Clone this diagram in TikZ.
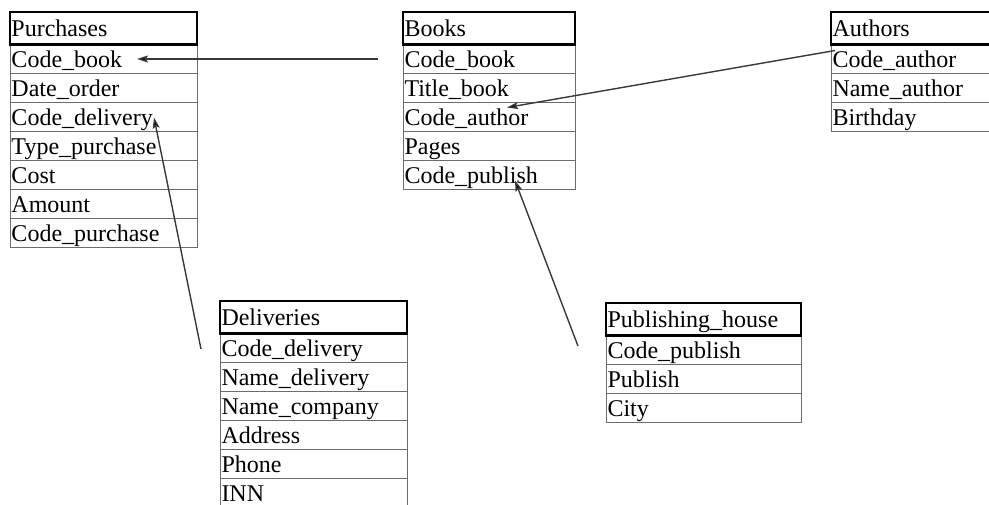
\documentclass[tikz,border=0pt]{standalone}
\usepackage{fontspec}
\setmainfont{Liberation Serif}
\usetikzlibrary{positioning,arrows.meta}
\pgfdeclarelayer{background}
\pgfdeclarelayer{foreground}
\pgfsetlayers{background,main,foreground}
\tikzset{
tblhead/.style={draw=black, line width=2.8pt, anchor=north west, minimum height=32.5pt, inner xsep=1.5pt, inner ysep=0pt, outer sep=0pt, text height=18pt, text depth=2pt, align=left, font=\fontsize{24}{28}\selectfont},
tblrow/.style={draw=gray!85!black, line width=1pt, minimum height=29pt, inner xsep=1.5pt, inner ysep=0pt, outer sep=0pt, text height=18pt, text depth=2pt, align=left, font=\fontsize{24}{28}\selectfont},
fk/.style={draw=gray!45!black, line width=1.4pt, -{Stealth[length=11pt,width=7pt,inset=2pt,fill=black]}},
wpur/.style={text width=184pt},
wbk/.style={text width=169pt},
wau/.style={text width=156pt},
wde/.style={text width=184pt},
wph/.style={text width=192pt}
}
\begin{document}
\begin{tikzpicture}[x=1pt,y=-1pt]
\useasboundingbox (0,0) rectangle (989,504);
\begin{pgfonlayer}{foreground}
\node[tblhead,wpur] (purchases) at (10,12) {Purchases};
\node[tblhead,wbk] (books) at (403,12) {Books};
\node[tblhead,wau] (authors) at (831,12) {Authors};
\node[tblhead,wde] (deliveries) at (220,301) {Deliveries};
\node[tblhead,wph] (pubhouse) at (606,303) {Publishing\_house};
\end{pgfonlayer}
% Purchases
\node[tblrow,wpur,below=0pt of purchases] (pu1) {Code\_book};
\node[tblrow,wpur,below=0pt of pu1] (pu2) {Date\_order};
\node[tblrow,wpur,below=0pt of pu2] (pu3) {Code\_delivery};
\node[tblrow,wpur,below=0pt of pu3] (pu4) {Type\_purchase};
\node[tblrow,wpur,below=0pt of pu4] (pu5) {Cost};
\node[tblrow,wpur,below=0pt of pu5] (pu6) {Amount};
\node[tblrow,wpur,below=0pt of pu6] (pu7) {Code\_purchase};
% Books
\node[tblrow,wbk,below=0pt of books] (bk1) {Code\_book};
\node[tblrow,wbk,below=0pt of bk1] (bk2) {Title\_book};
\node[tblrow,wbk,below=0pt of bk2] (bk3) {Code\_author};
\node[tblrow,wbk,below=0pt of bk3] (bk4) {Pages};
\node[tblrow,wbk,below=0pt of bk4] (bk5) {Code\_publish};
% Authors
\node[tblrow,wau,below=0pt of authors] (au1) {Code\_author};
\node[tblrow,wau,below=0pt of au1] (au2) {Name\_author};
\node[tblrow,wau,below=0pt of au2] (au3) {Birthday};
% Deliveries
\node[tblrow,wde,below=0pt of deliveries] (de1) {Code\_delivery};
\node[tblrow,wde,below=0pt of de1] (de2) {Name\_delivery};
\node[tblrow,wde,below=0pt of de2] (de3) {Name\_company};
\node[tblrow,wde,below=0pt of de3] (de4) {Address};
\node[tblrow,wde,below=0pt of de4] (de5) {Phone};
\node[tblrow,wde,below=0pt of de5] (de6) {INN};
% Publishing house
\node[tblrow,wph,below=0pt of pubhouse] (ph1) {Code\_publish};
\node[tblrow,wph,below=0pt of ph1] (ph2) {Publish};
\node[tblrow,wph,below=0pt of ph2] (ph3) {City};
% links
\draw[fk] ([xshift=-25pt]bk1.west) -- ([xshift=127pt]pu1.west);
\draw[fk] ([xshift=4pt,yshift=-6pt]au1.north west) -- ([xshift=104pt,yshift=-5pt]bk3.north west);
\draw[fk] ([xshift=-19pt,yshift=-1pt]de1.west) -- ([xshift=144pt,yshift=-15pt]pu3.north west);
\draw[fk] ([xshift=-28pt,yshift=4pt]ph1.west) -- ([xshift=112pt,yshift=-5.5pt]bk5.west);
\end{tikzpicture}
\end{document}
